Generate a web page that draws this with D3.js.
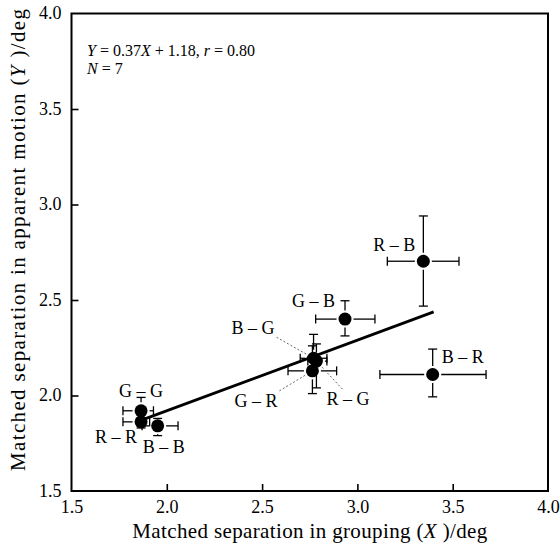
<!DOCTYPE html>
<html>
<head>
<meta charset="utf-8">
<script src="https://cdn.jsdelivr.net/npm/d3@7/dist/d3.min.js"></script>
<style>
  body { margin: 0; background: #fff; }
  text { font-family: "Liberation Serif", "DejaVu Serif", serif; fill: #000; }
</style>
</head>
<body>
<script>
// pair names and matched separations (deg)
var pairs  = ["R – B", "B – R", "G – B", "B – G", "R – G", "G – R", "G – G", "R – R", "B – B"];
var xMean  = [3.346, 3.395, 2.935, 2.770, 2.785, 2.764, 1.865, 1.865, 1.952];
var yMean  = [2.703, 2.110, 2.400, 2.195, 2.180, 2.129, 1.920, 1.862, 1.841];
var xLow   = [3.157, 3.118, 2.781, 2.700, 2.740, 2.636, 1.770, 1.770, 1.870];
var xHigh  = [3.533, 3.675, 3.092, 2.840, 2.840, 2.891, 1.930, 1.910, 2.059];
var yLow   = [2.468, 1.993, 2.312, 2.150, 2.040, 2.010, 1.870, 1.830, 1.790];
var yHigh  = [2.940, 2.243, 2.496, 2.320, 2.270, 2.260, 1.990, 1.900, 1.880];

// regression Y = 0.37X + 1.18
var slope = 0.37;
var intercept = 1.18;
var fitRange = [1.86, 3.40];

var xTicks = [1.5, 2.0, 2.5, 3.0, 3.5, 4.0];
var yTicks = [1.5, 2.0, 2.5, 3.0, 3.5, 4.0];

// svg size
var w_svg = 560;
var h_svg = 544;
var pl = 71.5, pr = 548, pt = 13.5, pb = 491; // plot box edges

var svg = d3.select("body").append("svg")
  .attr("width", w_svg)
  .attr("height", h_svg);

var xScale = d3.scaleLinear().domain([1.5, 4.0]).range([pl, pr]);
var yScale = d3.scaleLinear().domain([1.5, 4.0]).range([pb, pt]);

// axes, ticks pointing inward
var x_axis = d3.axisBottom(xScale).tickValues(xTicks).tickSizeInner(-7).tickSizeOuter(0)
  .tickPadding(12).tickFormat(d3.format(".1f"));
var gx = svg.append("g").attr("transform", "translate(0," + pb + ")").call(x_axis);

var y_axis = d3.axisLeft(yScale).tickValues(yTicks).tickSizeInner(-7).tickSizeOuter(0)
  .tickPadding(10).tickFormat(d3.format(".1f"));
var gy = svg.append("g").attr("transform", "translate(" + pl + ",0)").call(y_axis);

[gx, gy].forEach(function(g) {
  g.select(".domain").remove();
  g.selectAll(".tick line").attr("stroke", "#000").attr("stroke-width", 1.6);
  g.selectAll(".tick text").style("font-size", "18px").style("font-family", "Liberation Serif");
});
// corner ticks are covered by the frame
gx.selectAll(".tick").filter(function(d) { return d == 1.5 || d == 4.0; }).select("line").remove();
gy.selectAll(".tick").filter(function(d) { return d == 1.5 || d == 4.0; }).select("line").remove();
gx.selectAll(".tick text").attr("dy", "0.55em");
gy.selectAll(".tick text").attr("dy", "0.3em");

// frame
svg.append("rect")
  .attr("x", pl).attr("y", pt)
  .attr("width", pr - pl).attr("height", pb - pt)
  .attr("fill", "none").attr("stroke", "#000").attr("stroke-width", 2);

// axis labels
svg.append("text")
  .attr("x", (pl + pr) / 2).attr("y", 538)
  .attr("text-anchor", "middle").style("font-size", "21px")
  .attr("textLength", 355).attr("lengthAdjust", "spacing")
  .html("Matched separation in grouping (<tspan font-style='italic'>X</tspan> )/deg");

svg.append("text")
  .attr("transform", "translate(25,240) rotate(-90)")
  .attr("text-anchor", "middle").style("font-size", "21px")
  .attr("textLength", 462).attr("lengthAdjust", "spacing")
  .html("Matched separation in apparent motion (<tspan font-style='italic'>Y</tspan> )/deg");

// equation
var eq = svg.append("text").attr("x", 87).attr("y", 56).style("font-size", "16px");
eq.append("tspan").attr("font-style", "italic").text("Y");
eq.append("tspan").text(" = 0.37");
eq.append("tspan").attr("font-style", "italic").text("X");
eq.append("tspan").text(" + 1.18,  ");
eq.append("tspan").attr("font-style", "italic").text("r");
eq.append("tspan").text(" = 0.80");
var eq2 = svg.append("text").attr("x", 87).attr("y", 74).style("font-size", "16px");
eq2.append("tspan").attr("font-style", "italic").text("N");
eq2.append("tspan").text(" = 7");

// dataset
var dataset = [];
for (var i = 0; i < pairs.length; i++) {
  dataset.push({ name: pairs[i], x: xMean[i], y: yMean[i],
    x0: xLow[i], x1: xHigh[i], y0: yLow[i], y1: yHigh[i] });
}

// regression line
svg.append("line")
  .attr("x1", xScale(fitRange[0])).attr("y1", yScale(slope * fitRange[0] + intercept))
  .attr("x2", xScale(fitRange[1])).attr("y2", yScale(slope * fitRange[1] + intercept))
  .attr("stroke", "#000").attr("stroke-width", 2.8);

var r = 6.5, gap = 2, cap = 4.5;

// error bars
var eb = svg.selectAll("g.err").data(dataset).enter().append("g")
  .attr("stroke", "#000").attr("stroke-width", 1.3).attr("fill", "none");

eb.each(function(d) {
  var g = d3.select(this);
  var cx = xScale(d.x), cy = yScale(d.y);
  var xl = xScale(d.x0), xr = xScale(d.x1), yt = yScale(d.y1), yb = yScale(d.y0);
  if (cx - xl > r + gap) g.append("line").attr("x1", xl).attr("x2", cx - r - gap).attr("y1", cy).attr("y2", cy);
  if (xr - cx > r + gap) g.append("line").attr("x1", cx + r + gap).attr("x2", xr).attr("y1", cy).attr("y2", cy);
  if (cy - yt > r + gap) g.append("line").attr("x1", cx).attr("x2", cx).attr("y1", yt).attr("y2", cy - r - gap);
  if (yb - cy > r + gap) g.append("line").attr("x1", cx).attr("x2", cx).attr("y1", cy + r + gap).attr("y2", yb);
  g.append("line").attr("x1", xl).attr("x2", xl).attr("y1", cy - cap).attr("y2", cy + cap);
  g.append("line").attr("x1", xr).attr("x2", xr).attr("y1", cy - cap).attr("y2", cy + cap);
  g.append("line").attr("x1", cx - cap).attr("x2", cx + cap).attr("y1", yt).attr("y2", yt);
  g.append("line").attr("x1", cx - cap).attr("x2", cx + cap).attr("y1", yb).attr("y2", yb);
});

// points
svg.selectAll("circle.pt").data(dataset).enter().append("circle")
  .attr("class", "pt")
  .attr("cx", function(d) { return xScale(d.x); })
  .attr("cy", function(d) { return yScale(d.y); })
  .attr("r", r).attr("fill", "#000");

// label placement: offsets from the point in px [dx, dy, anchor, leader]
var place = {
  "R – B": [-8, -10, "end", false],
  "B – R": [9, -11, "start", false],
  "G – B": [-10, -12, "end", false],
  "B – G": [-39, -24, "end", true],
  "R – G": [10, 44, "start", true],
  "G – R": [-35, 36, "end", true],
  "G – G": [0, -14, "middle", false],
  "R – R": [-4, 21, "end", false],
  "B – B": [6, 27, "middle", false]
};

dataset.forEach(function(d) {
  var p = place[d.name];
  var cx = xScale(d.x), cy = yScale(d.y);
  svg.append("text")
    .attr("x", cx + p[0]).attr("y", cy + p[1])
    .attr("text-anchor", p[2]).style("font-size", "18px")
    .text(d.name);
  if (p[3]) {
    // dashed leader from label to the point
    var lx, ly;
    if (p[2] == "end") { lx = cx + p[0] + 2; } else { lx = cx + p[0] + 16; }
    ly = p[1] < 0 ? cy + p[1] + 3 : cy + p[1] - 16;
    var ang = Math.atan2(cy - ly, cx - lx);
    svg.append("line")
      .attr("x1", lx).attr("y1", ly)
      .attr("x2", cx - Math.cos(ang) * (r + 1)).attr("y2", cy - Math.sin(ang) * (r + 1))
      .attr("stroke", "#444").attr("stroke-width", 0.8).attr("stroke-dasharray", "2,2");
  }
});
</script>
</body>
</html>
